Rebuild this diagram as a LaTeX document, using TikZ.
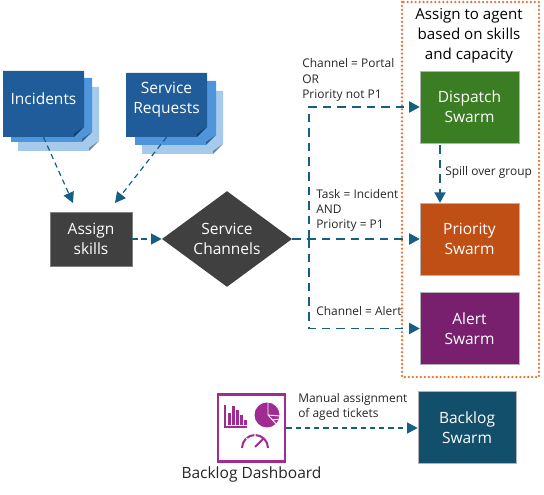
\documentclass[tikz,border=0pt]{standalone}
\usepackage{fontspec}
\setmainfont{Open Sans}
\usetikzlibrary{arrows.meta, positioning, calc, shapes.geometric}
\definecolor{sheetdark}{HTML}{1F5C99}
\definecolor{sheetmid}{HTML}{4E95D9}
\definecolor{sheetpale}{HTML}{A6CAEC}
\definecolor{slate}{HTML}{404040}
\definecolor{flow}{HTML}{156082}
\definecolor{grassgreen}{HTML}{3B7D23}
\definecolor{rust}{HTML}{C04F15}
\definecolor{plum}{HTML}{78206E}
\definecolor{deepteal}{HTML}{124F6B}
\definecolor{dashpurple}{HTML}{A02B93}
\definecolor{dotorange}{HTML}{E97132}
\definecolor{inktext}{HTML}{262626}

\tikzset{
  boxtext/.style={text=white, font=\fontsize{11.7pt}{15pt}\selectfont, align=center, inner sep=0pt},
  swarm/.style={boxtext, draw=white!70!black, line width=0.4pt, minimum width=2.62cm, minimum height=1.9cm},
  note/.style={text=inktext, font=\fontsize{9pt}{11.6pt}\selectfont, align=left, anchor=west, inner sep=0pt},
  flowline/.style={flow, line width=1.5pt, dash pattern=on 6.5pt off 4.5pt, -{Triangle[length=2.8mm, width=2.9mm]}},
  thinflow/.style={flow, line width=0.9pt, dash pattern=on 4pt off 3pt, -{Triangle[length=2.8mm, width=2.9mm]}},
}

\begin{document}
\begin{tikzpicture}[x=0.0265cm, y=-0.0265cm]
\useasboundingbox (0,0) rectangle (544,495);

% Stacked sheets behind the two sources
\foreach \xa/\ya/\xb/\yb/\col in {18/87/99/151/sheetpale, 11/78/92/142/sheetmid, 3/71/84/137/sheetdark,
    142/91/223/154/sheetpale, 135/81/216/145/sheetmid, 126/73/207/137/sheetdark} {
  \fill[\col] (\xa,\ya) -- (\xb,\ya) -- (\xb,\yb-10) -- (\xb-10,\yb) -- (\xa,\yb) -- cycle;
  \fill[\col!65!black] (\xb,\yb-10) -- (\xb-10,\yb-3) -- (\xb-10,\yb) -- cycle;
}

% Sources
\node[boxtext, minimum width=2.15cm, minimum height=2.01cm] (incidents) at (43.5,99) {Incidents};
\node[boxtext, minimum width=2.15cm, minimum height=1.96cm] (requests) at (166.5,100) {Service\\Requests};

% Intake
\node[boxtext, fill=slate, draw=gray, line width=0.4pt, minimum width=2.17cm, minimum height=1.43cm] (assign) at (91,239) {Assign\\skills};
\node[boxtext, fill=slate, shape=diamond, aspect=1.35, minimum width=3.45cm, minimum height=2.54cm] (channels) at (227,239) {Service\\Channels};

% Swarms
\node[swarm, fill=grassgreen] (dispatch) at (469.5,107) {Dispatch\\Swarm};
\node[swarm, fill=rust] (priority) at (469.5,239) {Priority\\Swarm};
\node[swarm, fill=plum] (alert) at (469.5,328.5) {Alert\\Swarm};
\node[swarm, fill=deepteal, minimum width=2.6cm] (backlog) at (467,427.5) {Backlog\\Swarm};

% Dotted group
\draw[dotorange, line width=1.9pt, line cap=round, dash pattern=on 0pt off 3pt] (402,2) rectangle (539,377);
\node[text=black, font=\fontsize{11.4pt}{15pt}\selectfont, align=center, inner sep=0pt] (grouptitle) at (469,36) {Assign to agent\\based on skills\\and capacity};

% Dashboard icon
\node[draw=dashpurple, line width=1.9pt, minimum size=1.78cm, inner sep=0pt] (dash) at (251.5,428) {};
\node[font=\fontsize{11.7pt}{14pt}\selectfont, text=inktext, inner sep=0pt] (dashlabel) at (251.5,474) {Backlog Dashboard};
\draw[dashpurple, line width=1.1pt] (225,405) -- (225,427) -- (247,427);
\foreach \x/\y in {229/413, 233/406, 237/410, 241/415, 245/420} {
  \fill[dashpurple] (\x-1.5,\y) rectangle (\x+1.5,425);
}
\fill[dashpurple] (267,415) circle (12.5);
\draw[white, line width=0.7pt] (268,402) -- (268,415) -- (280,416) (268,415) -- (277,425) (272,420) -- (280,419);
\draw[dashpurple, line width=1.5pt] (242,448) arc[start angle=180, end angle=360, x radius=13, y radius=13];
\draw[white, line width=0.8pt] (246,438) -- (248,440) (255,433) -- (255,437) (264,438) -- (262,440);
\draw[dashpurple, line width=1.4pt] (255,447) -- (264,438);

% Connectors
\coordinate (incstop) at (73,203);
\coordinate (reqstop) at (115,203);
\coordinate (branch) at (309,239);
\coordinate (spillfrom) at (440,145);
\draw[thinflow] (incidents.south) -- (incstop);
\draw[thinflow] (requests.south) -- (reqstop);
\draw[thinflow] (assign.east) -- (channels.west);
\draw[flowline] (channels.east) -- (priority.west);
\draw[flowline] (branch) |- (dispatch.west);
\draw[flowline] (branch) |- (alert.west);
\draw[flowline] (spillfrom) -- (spillfrom |- priority.north);
\draw[thinflow] (dash.east) -- (backlog.west |- dash.east);

% Labels
\node[note] (portalnote) at (302,80) {Channel = Portal\\OR\\Priority not P1};
\node[note] (tasknote) at (316,210.5) {Task = Incident\\AND\\Priority = P1};
\node[note] (alertnote) at (316,311) {Channel = Alert};
\node[note] (spillnote) at (445,172) {Spill over group};
\node[note] (manualnote) at (298,407) {Manual assignment\\of aged tickets};

\end{tikzpicture}
\end{document}
